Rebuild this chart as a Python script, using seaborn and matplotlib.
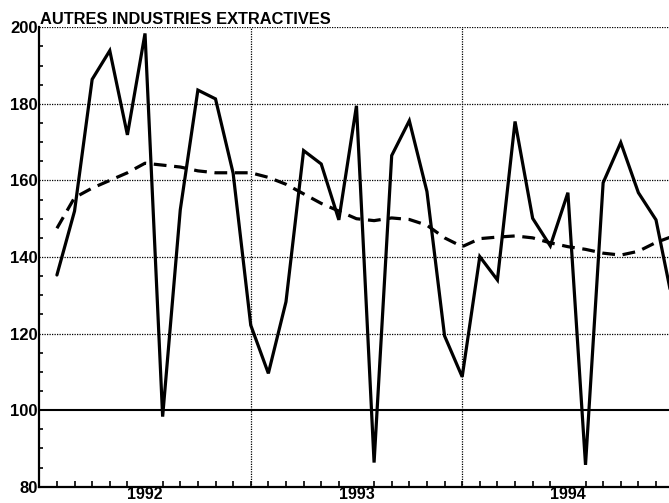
import matplotlib
matplotlib.use("Agg")
import matplotlib.pyplot as plt
import seaborn as sns
import pandas as pd
import numpy as np
from matplotlib.ticker import FixedLocator, MultipleLocator

# --- data ---------------------------------------------------------------
title = "AUTRES INDUSTRIES EXTRACTIVES"
year_labels = ["1992", "1993", "1994"]
# monthly observations (position = month count from start of 1992)
month_pos = [1, 2, 3, 4, 5, 6, 7, 8, 9, 10, 11, 12,
             13, 14, 15, 16, 17, 18, 19, 20, 21, 22, 23, 24,
             25, 26, 27, 28, 29, 30, 31, 32, 33, 34, 35, 36]
raw_index = [135.3, 152.0, 186.4, 193.9, 171.9, 198.4, 98.3, 152.3, 183.6, 181.3, 161.9, 122.2,
             109.6, 128.3, 167.8, 164.3, 149.7, 179.5, 86.3, 166.5, 175.6, 157.1, 119.4, 108.7,
             140.1, 134.0, 175.4, 150.1, 142.9, 156.8, 85.7, 159.4, 169.9, 156.8, 149.7, 127.0]
trend_index = [147.5, 155.5, 158.0, 160.0, 162.0, 164.5, 164.0, 163.5, 162.5, 162.0, 162.0, 162.0,
               160.8, 159.0, 156.5, 154.0, 152.0, 150.0, 149.5, 150.2, 149.8, 148.3, 145.0, 142.7,
               144.8, 145.2, 145.5, 145.0, 143.7, 142.7, 142.0, 141.0, 140.5, 141.5, 143.8, 145.5]

df = pd.DataFrame({"month": month_pos, "raw": raw_index, "trend": trend_index})

# --- style --------------------------------------------------------------
sns.set_theme(style="white")
plt.rcParams["font.family"] = ["Liberation Sans", "DejaVu Sans"]

W, H = 669, 503
fig = plt.figure(figsize=(W / 100, H / 100), dpi=100)
px_per_month = 17.62
left_px, top_px, bottom_px = 39.3, 27.3, 486.7
xmax = 36.0
ax = fig.add_axes([left_px / W, (H - bottom_px) / H,
                   xmax * px_per_month / W, (bottom_px - top_px) / H])

sns.lineplot(data=df, x="month", y="raw", ax=ax, color="black", lw=2.3,
             solid_joinstyle="miter", zorder=4)
sns.lineplot(data=df, x="month", y="trend", ax=ax, color="black", lw=2.3,
             dashes=False, zorder=4)
ax.lines[-1].set_dashes([4.0, 2.4])

ax.set_xlim(0, xmax)
ax.set_ylim(80, 200)

# gridlines
for yv in [120, 140, 160, 180, 200]:
    ax.axhline(yv, color="black", lw=0.9, ls=(0, (1, 1)), zorder=2)
ax.axhline(100, color="black", lw=1.5, zorder=3)
for xv in [12, 24]:
    ax.axvline(xv, color="black", lw=0.9, ls=(0, (1, 1)), zorder=2)

# spines
for side in ["top", "right"]:
    ax.spines[side].set_visible(False)
for side in ["left", "bottom"]:
    ax.spines[side].set_color("black")
    ax.spines[side].set_linewidth(1.6)

# ticks
ax.xaxis.set_major_locator(FixedLocator([6, 18, 30]))
ax.set_xticklabels(year_labels)
ax.xaxis.set_minor_locator(MultipleLocator(1))
ax.tick_params(axis="x", which="major", length=0, pad=0.3, labelsize=11.5)
ax.tick_params(axis="x", which="minor", direction="in", length=4, width=1.2,
               color="black", bottom=True)
ax.yaxis.set_major_locator(MultipleLocator(20))
ax.yaxis.set_minor_locator(MultipleLocator(5))
ax.tick_params(axis="y", which="major", direction="in", length=0, pad=1, labelsize=12)
ax.tick_params(axis="y", which="minor", direction="in", length=3, width=1.2,
               color="black", left=True)
for lab in ax.get_xticklabels() + ax.get_yticklabels():
    lab.set_fontweight("bold")
    lab.set_color("black")

ax.set_xlabel("")
ax.set_ylabel("")

fig.text(40 / W, (H - 24) / H, title, fontsize=11.8, fontweight="bold",
         ha="left", va="baseline", color="black")

fig.savefig("out.png", dpi=100)
